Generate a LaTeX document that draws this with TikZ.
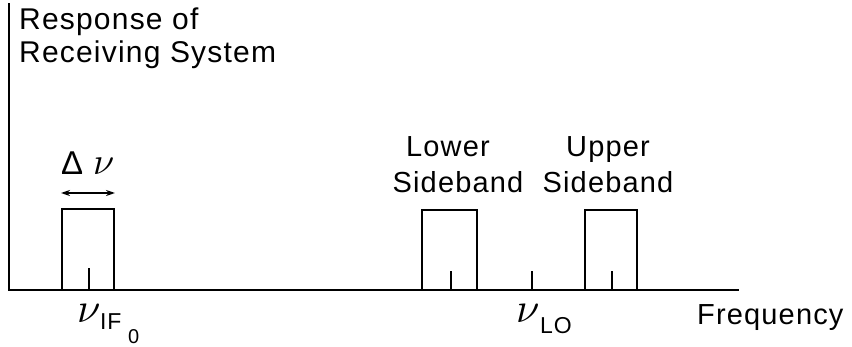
\documentclass[tikz,border=0pt]{standalone}
\usepackage{fontspec}
\usepackage{unicode-math}
\setmathfont{Latin Modern Math}
\setmainfont{Liberation Sans}[LetterSpace=4]
\usetikzlibrary{arrows.meta}
\tikzset{
  axis/.style={line width=2.6pt, line cap=rect},
  band/.style={line width=2.3pt},
  tickmark/.style={line width=2pt},
  lbl/.style={inner sep=0pt, font=\fontsize{29}{32}\selectfont},
  ylbl/.style={inner sep=0pt, anchor=base west, font=\fontsize{30}{33}\selectfont},
  sym/.style={inner sep=0pt, font=\fontsize{42}{44}\selectfont},
  subl/.style={inner sep=0pt, font=\fontsize{23}{26}\selectfont},
}
\begin{document}
\begin{tikzpicture}[x=1pt,y=-1pt]
\useasboundingbox (0,0) rectangle (852,347);
% axes
\coordinate (top) at (9,4);
\coordinate (orig) at (9,290);
\coordinate (xend) at (738,290);
\draw[axis] (top) -- (orig) -- (xend);
% bands
\coordinate (ifL) at (62,290); \coordinate (ifR) at (114,290);
\draw[band] (ifL) -- (62,209) -- (114,209) -- (ifR);
\coordinate (lsL) at (422,290); \coordinate (lsR) at (477,290);
\draw[band] (lsL) -- (422,210) -- (477,210) -- (lsR);
\coordinate (usL) at (585,290); \coordinate (usR) at (637,290);
\draw[band] (usL) -- (585,210) -- (637,210) -- (usR);
% ticks
\draw[tickmark] (89,290) -- (89,268);
\draw[tickmark] (451,290) -- (451,271);
\draw[tickmark] (532,290) -- (532,271);
\draw[tickmark] (612,290) -- (612,271);
% delta nu arrow
\coordinate (aL) at (61,193); \coordinate (aR) at (115,193);
\draw[line width=1.6pt, {Stealth[length=9pt,width=6pt]}-{Stealth[length=9pt,width=6pt]}] (aL) -- (aR);
\node[inner sep=0pt, anchor=base west, font=\fontsize{33}{35}\selectfont] (delta) at (61,175) {Δ};
\node[inner sep=0pt, anchor=base west, font=\fontsize{38}{40}\selectfont] (dnu) at (93,175) {$\nu$};
% y label
\node[ylbl] (resp) at (19,30) {Response of};
\node[ylbl] (recv) at (19,63) {Receiving System};
% sideband labels
\node[lbl, anchor=base] (lower) at (448,157) {Lower};
\node[lbl, anchor=base] (lsb) at (458,193) {Sideband};
\node[lbl, anchor=base] (upper) at (608,157) {Upper};
\node[lbl, anchor=base] (usb) at (608,193) {Sideband};
% frequency
\node[lbl, anchor=base west] (freq) at (697,325) {Frequency};
% nu labels
\node[sym, anchor=base west] (nuif) at (77,323) {$\nu$};
\node[subl, anchor=base west] (if) at (100,330) {IF};
\node[subl, anchor=base west, font=\fontsize{20}{22}\selectfont] (if0) at (128,344) {0};
\node[sym, anchor=base west] (nulo) at (516,323) {$\nu$};
\node[subl, anchor=base west] (lo) at (540,334) {LO};
\end{tikzpicture}
\end{document}
